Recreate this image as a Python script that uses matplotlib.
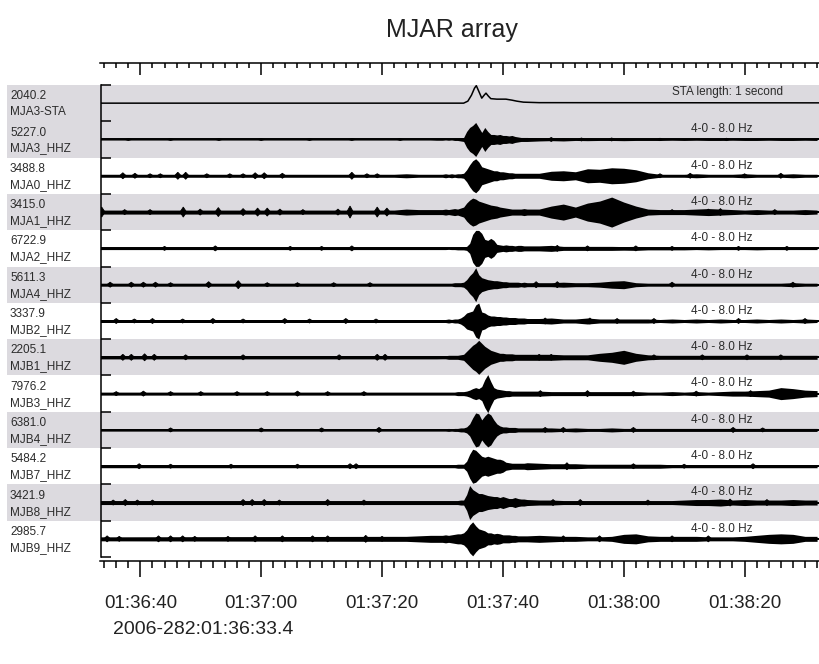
import matplotlib.pyplot as plt
import numpy as np
from matplotlib.ticker import FixedLocator, MultipleLocator
import matplotlib.transforms as mtransforms

plt.rcParams.update({'font.family': 'Liberation Sans', 'font.size': 9})

# %% data
title = 'MJAR array'
start_label = '2006-282:01:36:33.4'
t_start = 33.4      # seconds after 01:36:00
t_end = 152.4

station = ['MJA3-STA', 'MJA3_HHZ', 'MJA0_HHZ', 'MJA1_HHZ', 'MJA2_HHZ', 'MJA4_HHZ',
           'MJB2_HHZ', 'MJB1_HHZ', 'MJB3_HHZ', 'MJB4_HHZ', 'MJB7_HHZ', 'MJB8_HHZ',
           'MJB9_HHZ']
peak_val = ['2040.2', '5227.0', '3488.8', '3415.0', '6722.9', '5611.3', '3337.9',
            '2205.1', '7976.2', '6381.0', '5484.2', '3421.9', '2985.7']
note = ['STA length: 1 second'] + ['4-0 - 8.0 Hz'] * 12
shaded = [1, 1, 0, 1, 0, 1, 0, 1, 0, 1, 0, 1, 0]

tick_sec = [40, 60, 80, 100, 120, 140]
tick_lab = ['01:36:40', '01:37:00', '01:37:20', '01:37:40', '01:38:00', '01:38:20']

# STA trace (relative level)
sta_t = [33.4, 93.5, 94.2, 94.8, 95.3, 95.6, 96.0, 96.5, 96.9, 97.2, 97.6, 98.0,
         99.0, 100.5, 101.5, 102.3, 103.4, 106, 152.4]
sta_v = [0, 0, 2, 8, 15, 17.5, 12, 5, 8, 10, 7, 4.5, 4, 4, 3, 2, 1, 0.5, 0.3]

# background noise level of each filtered trace before 01:37:22
noise = [0.6, 1.5, 2, 1.2, 1.5, 1.5, 1.6, 1.5, 1.2, 1.5, 2, 2]

# envelope sample times (s after 01:36:00), from 01:37:22 on
env_t = np.concatenate([[82, 84, 86, 88, 89], np.arange(90, 104.5, 0.5),
                        np.arange(106, 153, 2)])

# half-amplitude envelopes of the filtered traces
env_mja3 = [0.6, 0.6, 0.6, 0.6, 0.8,
            0.8, 0.5, 0.8, 0.5, 1, 1, 1.5, 2, 8, 12, 14, 17, 12, 7, 12, 8, 5, 5, 4.5, 5, 4, 4, 3.5, 4, 3, 2.5, 2, 2, 2,
            1.5, 1.2, 1.5, 1, 1.2, 1, 1, 1.2, 1, 1, 1, 0.8, 1, 0.8, 1, 1, 0.8, 1, 1, 0.8, 1, 1, 0.8, 1]
env_mja0 = [1.5, 2, 1.5, 1.5, 1.5,
            1.5, 2, 1.5, 2, 1.5, 2, 2, 2.5, 6, 11, 15, 17, 14, 9, 8, 7, 6, 5, 5, 4, 4, 3.5, 3, 3, 2.5, 2.5, 2.5, 2.5, 2.5,
            2.5, 4.5, 5, 4, 7, 6.5, 8, 7.5, 6, 3, 1.5, 1.5, 1.5, 2, 1.5, 1.5, 1.5, 2, 1.5, 1.5, 1.5, 2, 1.5, 1.5]
env_mja1 = [2, 3, 2.5, 2.5, 2.5,
            2.5, 3, 2.5, 3, 3.5, 3, 4, 5, 9, 12, 14, 13, 11, 10, 9, 8, 7, 6.5, 6, 5, 4.5, 4, 3.5, 3, 3, 3, 3, 3.5, 3,
            3, 6, 8, 5, 9, 11, 15, 10, 6, 3, 2.5, 2.5, 2.5, 3, 3.5, 3, 2.5, 2, 2.5, 2, 2, 2, 2.5, 2]
env_mja2 = [1.2, 1.2, 1.2, 1.2, 1.2,
            1.2, 1.2, 1, 1.2, 1.2, 1.5, 1.5, 1.5, 2, 5, 14, 18, 18, 15, 9, 8, 10, 8, 4, 3.5, 3, 3.5, 3, 3, 2.5, 3, 3, 2.5, 2.5,
            2.5, 3, 2, 2, 2, 2, 2, 1.8, 2, 1.5, 1.5, 1.5, 1.5, 1.2, 1.5, 1.2, 1.2, 1.2, 1.5, 1.2, 1.2, 1.2, 1.2, 1.2]
env_mja4 = [1.5, 1.5, 1.5, 1.5, 1.5,
            1.5, 1.5, 1.5, 1.5, 2, 2, 2, 2.5, 5, 9, 12, 17, 10, 7, 6, 5, 4.5, 4, 4, 3.5, 3, 3, 2.5, 2.5, 2.5, 2.5, 2, 2.5, 2,
            2, 2, 2.5, 2, 2, 2.5, 3.5, 4, 2, 1.5, 1.5, 1.5, 1.5, 1.5, 1.5, 1.5, 1.5, 1.5, 1.5, 1.5, 1.5, 2, 1.5, 1.5]
env_mjb2 = [1.5, 1.5, 1.5, 1.5, 1.5,
            1.5, 1.5, 2, 1.5, 2, 2, 3, 5, 8, 9, 10, 16, 18, 9, 8, 6, 5, 5, 4.5, 4.5, 4, 4, 3.5, 3.5, 3.5, 3, 3, 3, 2.5,
            2.5, 3, 2, 2, 3, 2, 2, 2, 2, 2, 1.5, 2, 1.5, 2, 1.5, 2, 1.5, 1.5, 2, 1.5, 2, 1.5, 2, 1.5]
env_mjb1 = [1.6, 1.6, 1.6, 1.6, 1.6,
            1.5, 1.5, 2, 2, 2, 2, 2.5, 3, 6, 9, 12, 14, 17, 14, 11, 9, 7, 6, 5, 4, 4, 3.5, 3.5, 3.5, 3, 3, 3, 3, 3,
            3, 3, 2.5, 2.5, 2.5, 4, 5, 7, 4, 2.5, 2, 2, 2, 2, 2, 2, 2, 2, 2, 2, 2, 2, 2, 2]
env_mjb3 = [1.5, 1.5, 1.5, 1.5, 1.5,
            1.5, 1.5, 1.5, 1.5, 1.5, 2, 2, 2, 2.5, 3.5, 5, 6, 5, 7, 14, 19, 12, 6, 4.5, 4, 3.5, 3, 3, 2.5, 2.5, 2.5, 2.5, 2.5, 2.5,
            2.5, 2, 2, 2, 2, 2, 2, 2, 2, 1.5, 1.5, 2, 1.5, 2, 1.5, 2, 2.5, 2.5, 3, 3.5, 6, 5, 3.5, 3]
env_mjb4 = [1.2, 1.2, 1.2, 1.2, 1.2,
            1.2, 1.2, 1.5, 1.2, 1.5, 1.5, 2, 2, 3, 6, 12, 17, 16, 10, 14, 17, 15, 10, 6, 4, 3, 3, 2.5, 2.5, 2.5, 2, 2, 2, 2,
            2, 2, 1.5, 2, 1.5, 1.5, 2, 1.5, 1.5, 1.5, 1.5, 1.5, 1.5, 1.5, 1.5, 1.5, 1.5, 1.5, 1.5, 1.5, 1.5, 1.5, 1.5, 1.5]
env_mjb7 = [1.5, 1.5, 1.5, 1.5, 1.5,
            1.5, 1.5, 1.5, 1.5, 1.5, 2, 2, 2, 5, 12, 17, 16, 13, 10, 9, 10, 9, 8, 7, 7, 6, 4, 3.5, 3, 3, 3, 3, 3, 3.5,
            3, 2.5, 2.5, 2.5, 2, 2, 2, 2, 2, 2, 2, 1.5, 1.5, 1.5, 1.5, 1.5, 1.5, 1.5, 1.5, 1.5, 1.5, 1.5, 1.5, 1.5]
env_mjb8 = [2, 2, 2, 2, 2,
            2, 2, 2, 2, 2, 2, 2.5, 2.5, 8, 17, 13, 11, 9, 9, 8, 7, 6.5, 6, 6, 5, 6, 5, 4, 4, 5, 4, 3.5, 3.5, 3,
            2.5, 2.5, 2, 2, 2, 2, 2, 2, 2, 2, 2, 2, 2.5, 3, 3, 3.5, 2.5, 3, 2.5, 2.5, 2.5, 3, 2.5, 2.5]
env_mjb9 = [2.5, 2.5, 3, 3.5, 3.5,
            3.5, 4, 3.5, 4, 4.5, 5, 5, 6, 9, 14, 17, 13, 10, 9, 8, 6, 6, 5, 5.5, 5, 4, 4, 4, 3.5, 3.5, 3, 3, 3, 3,
            3.5, 3, 2.5, 2.5, 2, 2, 2.5, 4.5, 5, 3, 2.5, 2.5, 2.5, 2.5, 2, 2, 2, 2.5, 3.5, 4.5, 5, 4.5, 2.5, 2.5]

# isolated noise bursts (time s, half-amplitude)
bumps_mja3 = [(38, 1), (45, 1), (53, 1), (60, 1), (68, 1), (75, 1), (83, 1),
              (108, 2), (113, 1.5), (118, 1.5), (126, 1.2), (137, 1.2)]
bumps_mja0 = [(37.1, 3), (39.1, 2.5), (41.6, 2), (43.3, 2), (46.2, 3.5), (47.5, 3.5), (51, 2),
              (54.8, 2), (57, 2), (59.0, 3), (60.5, 3), (63.5, 2.5), (75, 3.5), (77.5, 2),
              (79.2, 2), (126, 2), (131, 2.5), (140, 2), (146, 2.5)]
bumps_mja1 = [(33.6, 5), (37.4, 2.5), (41.6, 2.5), (47.1, 5), (49.9, 3), (52.9, 4.5), (57, 3.5),
              (59.4, 4), (61, 4), (63.1, 3), (66.9, 2.5), (72.7, 3), (74.7, 6), (79.2, 5),
              (80.8, 4), (128, 2.5), (134, 3), (136, 3.5), (145, 2.5)]
bumps_mja2 = [(44, 2), (52.4, 2.5), (64.8, 2), (70, 2), (75, 2.5),
              (109, 3), (114, 2.5), (122, 2.5), (128, 2), (139, 2), (147, 2)]
bumps_mja4 = [(35, 2.5), (38.5, 2.5), (40.5, 2.5), (42.5, 2.5), (45, 2), (51.3, 3), (56.2, 4),
              (61, 2), (66, 2), (72, 2), (78, 2), (105.5, 3), (109, 3), (128, 2.5), (148, 2.5)]
bumps_mjb2 = [(36, 2.5), (39, 2), (42, 2.5), (47, 2), (52, 2.5), (57, 2), (63.9, 2.5), (68, 2),
              (74, 2.5), (79, 2), (107, 3), (114.4, 3), (118.9, 2.5), (125, 2.5), (139, 2.5),
              (150, 2.5)]
bumps_mjb1 = [(37.1, 3), (38.5, 3), (40.7, 3.5), (42.3, 3), (47.5, 2.5), (57, 2.5), (72.9, 2.5),
              (79.2, 3), (80.5, 3), (106, 3), (108, 3), (125, 2.5), (133, 2.5), (140.4, 2.5),
              (146, 2.5)]
bumps_mjb3 = [(36, 2), (40.5, 2.5), (45, 2), (50, 2), (56, 2), (61, 2), (66, 2.5), (71, 2),
              (77, 2), (106.2, 3), (114, 3), (121.6, 2.5), (132, 2.5), (141, 3)]
bumps_mjb4 = [(45, 2), (60, 2), (70, 2), (79.5, 2.5), (107, 2.5), (110, 2.5), (121.6, 2.5),
              (138.1, 2.5), (143, 2)]
bumps_mjb7 = [(39.8, 2.5), (45, 2), (55, 2), (66, 2), (74.7, 2.5), (75.7, 2.5), (110.6, 3.5),
              (121.6, 2.5), (130, 2), (141.4, 2.5)]
bumps_mjb8 = [(35.5, 2.5), (37.5, 3), (39.5, 2.5), (42, 2.5), (57, 3), (58.5, 3), (60.5, 3),
              (63, 2.5), (71, 3), (77, 2.5), (108.3, 3), (112.8, 3), (124, 2.5), (137.6, 3.5),
              (143.7, 3)]
bumps_mjb9 = [(34.5, 3), (36.5, 2.5), (43, 3), (45, 3), (47, 3), (49, 2.5), (54.5, 2.5), (59, 3),
              (63.5, 3), (68.5, 3), (71, 3), (77.3, 3.5), (80, 2.5), (110, 3), (116, 3), (128, 3),
              (134, 3)]

traces = [env_mja3, env_mja0, env_mja1, env_mja2, env_mja4, env_mjb2, env_mjb1,
          env_mjb3, env_mjb4, env_mjb7, env_mjb8, env_mjb9]
bumps = [bumps_mja3, bumps_mja0, bumps_mja1, bumps_mja2, bumps_mja4, bumps_mjb2, bumps_mjb1,
         bumps_mjb3, bumps_mjb4, bumps_mjb7, bumps_mjb8, bumps_mjb9]

# %% layout
W, H = 819, 664
row_px = 472 / 13.0       # height of one trace row in pixels
amp = 1.0 / row_px        # envelope units -> row units
half_w = 0.55             # half width of a noise burst, seconds
band_col = '#dcdadf'
txt_col = '#2b2b2b'
nrow = len(station)

fig = plt.figure(figsize=(W / 100, H / 100), dpi=100)

# gray bands + station labels
ax_bg = fig.add_axes([7 / W, 1 - 557 / H, 812 / W, 472 / H])
ax_bg.set_xlim(0, 1)
ax_bg.set_ylim(nrow, 0)
ax_bg.axis('off')
for i in range(nrow):
    if shaded[i]:
        ax_bg.axhspan(i, i + 1, color=band_col, lw=0)
    ax_bg.text(3 / 812, i + 0.31, peak_val[i], fontsize=8.5, color=txt_col, va='center', ha='left')
    ax_bg.text(3 / 812, i + 0.75, station[i], fontsize=8.5, color=txt_col, va='center', ha='left')

# traces
ax = fig.add_axes([100.5 / W, 1 - 557 / H, 719 / W, 472 / H])
ax.patch.set_alpha(0)
ax.set_xlim(t_start, t_end)
ax.set_ylim(nrow, 0)
for s in ['top', 'right', 'bottom']:
    ax.spines[s].set_visible(False)
ax.spines['left'].set_linewidth(1.1)
ax.set_xticks([])
ax.yaxis.set_major_locator(FixedLocator(range(nrow + 1)))
ax.tick_params(axis='y', direction='in', length=7.5, width=1.1, labelleft=False)

y0 = 0.5
ax.plot(sta_t, y0 - np.array(sta_v) * amp, color='black', lw=1.1)
for i, e in enumerate(traces):
    yc = i + 1.5
    tt = np.r_[t_start, env_t]
    ee = np.r_[noise[i], e]
    ax.axhline(yc, color='black', lw=1.4)
    ax.fill_between(tt, yc - ee * amp, yc + ee * amp, color='black', lw=0)
    for bt, ba in bumps[i]:
        ax.fill([bt - half_w, bt, bt + half_w, bt],
                [yc, yc - ba * amp, yc, yc + ba * amp], color='black', lw=0.6)

blend = mtransforms.blended_transform_factory(ax.transAxes, ax.transData)
for i in range(nrow):
    if i == 0:
        ax.text(0.9492, i + 0.18, note[i], transform=blend, ha='right', va='center',
                fontsize=8.5, color=txt_col)
    else:
        ax.text(0.8644, i + 0.22, note[i], transform=blend, ha='center', va='center',
                fontsize=8.5, color=txt_col)

# top time ruler
ax_top = fig.add_axes([100.5 / W, 1 - 80 / H, 719 / W, 17 / H])
ax_top.patch.set_alpha(0)
ax_top.set_xlim(t_start, t_end)
for s in ['left', 'right', 'bottom']:
    ax_top.spines[s].set_visible(False)
ax_top.spines['top'].set_linewidth(1.1)
ax_top.set_yticks([])
ax_top.xaxis.set_major_locator(FixedLocator(tick_sec))
ax_top.xaxis.set_minor_locator(MultipleLocator(2))
ax_top.tick_params(axis='x', which='both', top=True, bottom=False, labelbottom=False,
                   labeltop=False, direction='in', width=1.1)
ax_top.tick_params(axis='x', which='major', length=8.5)
ax_top.tick_params(axis='x', which='minor', length=3.5)

# bottom time ruler with labels
ax_bot = fig.add_axes([100.5 / W, 1 - 595 / H, 719 / W, 34 / H])
ax_bot.patch.set_alpha(0)
ax_bot.set_xlim(t_start, t_end)
for s in ['left', 'right', 'bottom']:
    ax_bot.spines[s].set_visible(False)
ax_bot.spines['top'].set_linewidth(1.1)
ax_bot.set_yticks([])
ax_bot.xaxis.set_major_locator(FixedLocator(tick_sec))
ax_bot.xaxis.set_minor_locator(MultipleLocator(2))
ax_bot.set_xticklabels(tick_lab, fontsize=13.5, color='#222222')
ax_bot.tick_params(axis='x', which='both', top=True, bottom=False, labelbottom=True,
                   labeltop=False, direction='in', width=1.1, pad=0)
ax_bot.tick_params(axis='x', which='major', length=11.5)
ax_bot.tick_params(axis='x', which='minor', length=5)

fig.text(452 / W, 1 - 30 / H, title, ha='center', va='center', fontsize=18, color='#222222')
fig.text(113 / W, 1 - 630 / H, start_label, ha='left', va='center', fontsize=14, color='#222222')

fig.savefig('out.png', dpi=100)
